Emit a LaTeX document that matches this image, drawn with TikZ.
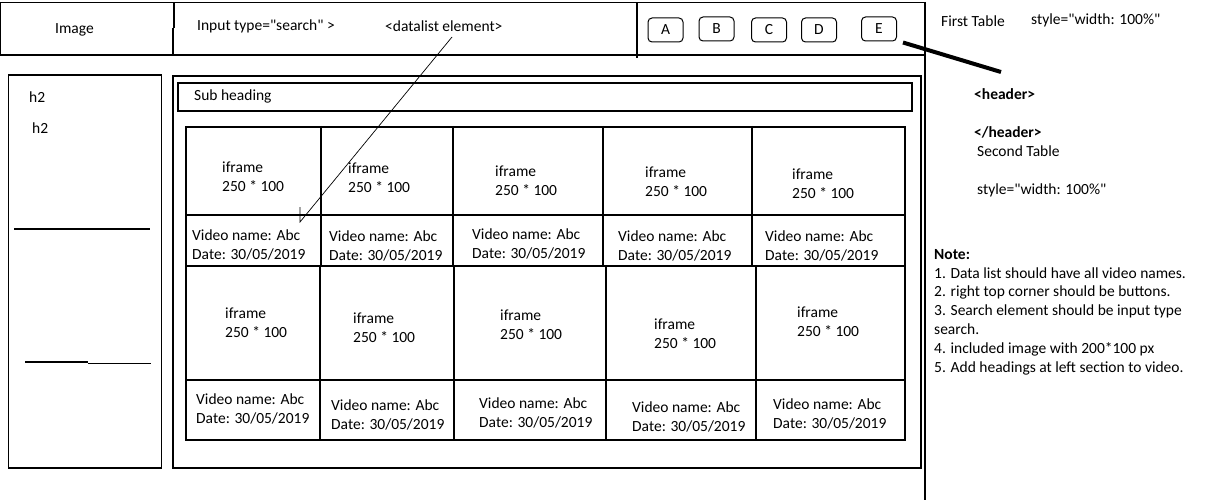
\documentclass[tikz,border=0pt]{standalone}
\usepackage{fontspec}
\setmainfont{Carlito}[Ligatures=TeXOff]
\begin{document}
\begin{tikzpicture}[x=1pt,y=-1pt,
  frame/.style={draw=black,line width=1.1pt},
  txt/.style={anchor=base west,inner sep=0pt,align=left,font=\fontsize{15.5}{19}\selectfont},
  bold/.style={txt,font=\fontsize{15.5}{19}\selectfont\bfseries},
  notetxt/.style={anchor=base west,inner sep=0pt,align=left,font=\fontsize{15.5}{18.8}\selectfont},
  btn/.style={draw,line width=1pt,rounded corners=4pt,minimum width=35pt,minimum height=24pt,inner sep=0pt,font=\fontsize{15.5}{18}\selectfont},
  pointer/.style={draw,line width=0.7pt},
  heavy/.style={draw,line width=4pt}]
\useasboundingbox (0,0) rectangle (1215,500);
\fill[white] (0,0) rectangle (1215,500);

% header bar
\draw[frame] (0.5,2.5) -- (925,2.5);
\draw[frame] (0.5,2.5) -- (0.5,55);
\draw[frame] (0,55) -- (925,55);
\draw[frame] (925,2) -- (925,500);
\draw[frame] (174,2.5) -- (174,28) (173,28) -- (173,55);
\draw[frame] (637,2.5) -- (637,58);

\node[txt] (logo) at (55,34) {Image};
\node[txt] (search) at (197,31) {Input type="search" >};
\node[txt] (dl) at (385,32) {<datalist element>};

% buttons
\node[btn] (A) at (665.5,30) {A};
\node[btn] (B) at (716.5,29) {B};
\node[btn] (C) at (769,30) {C};
\node[btn] (D) at (819,30) {D};
\node[btn] (E) at (879,29) {E};

% left section
\draw[frame] (8.5,75) rectangle (161.5,468);
\draw[frame] (14,229) -- (150,229);
\draw[frame] (25,362) -- (88,362) (88,363.5) -- (151,363.5);
\node[txt] (hA) at (29,103) {h2};
\node[txt] (hB) at (32,134) {h2};

% main section
\draw[frame] (173,76) rectangle (921,468);
\draw[frame] (178,83) rectangle (912,111);
\node[txt] (sub) at (194,101) {Sub heading};

% video grid
\draw[frame] (186,127) rectangle (905,440);
\draw[frame] (186,215) -- (905,215);
\draw[frame] (186,266) -- (905,266);
\draw[frame] (186,380) -- (905,380);
\foreach \cx in {321,453,603,752} \draw[frame] (\cx,126) -- (\cx,266);
\foreach \cx in {320,454,606,756} \draw[frame] (\cx,266) -- (\cx,440);

% first row (anchors sit on the second line's baseline)
\node[txt] (f1) at (222,191) {iframe\\250 * 100};
\node[txt] (f2) at (348,192) {iframe\\250 * 100};
\node[txt] (f3) at (495,195) {iframe\\250 * 100};
\node[txt] (f4) at (645,196) {iframe\\250 * 100};
\node[txt] (f5) at (792,198) {iframe\\250 * 100};
\node[txt] (v1) at (192,259) {Video name: Abc\\Date: 30/05/2019};
\node[txt] (v2) at (329,260) {Video name: Abc\\Date: 30/05/2019};
\node[txt] (v3) at (472,258) {Video name: Abc\\Date: 30/05/2019};
\node[txt] (v4) at (618,260) {Video name: Abc\\Date: 30/05/2019};
\node[txt] (v5) at (765,260) {Video name: Abc\\Date: 30/05/2019};

% second row
\node[txt] (f6) at (225,337) {iframe\\250 * 100};
\node[txt] (f7) at (353,342) {iframe\\250 * 100};
\node[txt] (f8) at (500,339) {iframe\\250 * 100};
\node[txt] (f9) at (654,348) {iframe\\250 * 100};
\node[txt] (f10) at (797,336) {iframe\\250 * 100};
\node[txt] (v6) at (196,423) {Video name: Abc\\Date: 30/05/2019};
\node[txt] (v7) at (331,429) {Video name: Abc\\Date: 30/05/2019};
\node[txt] (v8) at (479,427) {Video name: Abc\\Date: 30/05/2019};
\node[txt] (v9) at (632,431) {Video name: Abc\\Date: 30/05/2019};
\node[txt] (v10) at (773,428) {Video name: Abc\\Date: 30/05/2019};

% datalist pointer
\coordinate (dlA) at (452,37);
\coordinate (dlB) at (300,222);
\coordinate (dlT) at (300,207);
\draw[pointer] (dlA) -- (dlB) -- (dlT);

% side notes
\node[txt] (t1) at (941,27) {First Table};
\node[txt] (s1) at (1031,25) {style="width: 100\%"};
\coordinate (hdrEnd) at (1001,72);
\draw[heavy] ([xshift=6pt,yshift=-1pt]E.south east) -- (hdrEnd);
\node[bold] (h1) at (974,100) {<header>};
\node[bold] (h2) at (974,138) {</header>};
\node[txt] (t2) at (977,157) {Second Table};
\node[txt] (s2) at (977,194) {style="width: 100\%"};

\node[notetxt] (note) at (934,372) {\textbf{Note:}\\
1. Data list should have all video names.\\
2. right top corner should be buttons.\\
3. Search element should be input type\\
search.\\
4. included image with 200*100 px\\
5. Add headings at left section to video.};
\end{tikzpicture}
\end{document}
